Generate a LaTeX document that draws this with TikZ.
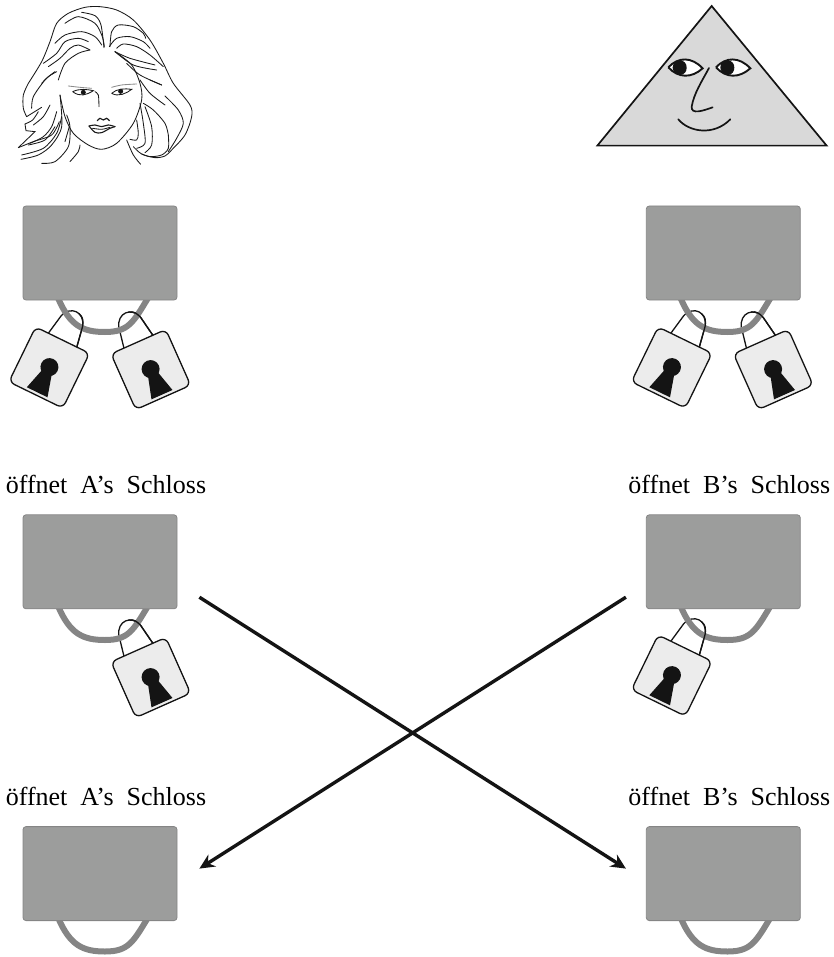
\documentclass[tikz,border=0pt]{standalone}
\usepackage{fontspec}
\setmainfont{Liberation Serif}
\usetikzlibrary{positioning}
\usetikzlibrary{arrows.meta}
\definecolor{keygray}{HTML}{9C9D9C}
\definecolor{ringgray}{HTML}{858585}
\definecolor{lockgray}{HTML}{ECECEC}
\definecolor{facegray}{HTML}{D9D9D9}
\definecolor{inkblack}{HTML}{141414}

\begin{document}
\begin{tikzpicture}[x=1pt,y=-1pt,
            node distance = 214pt,
            key/.style = {draw=ringgray,fill=keygray,rounded corners=3pt,line width=.8pt,
                minimum width=154pt,minimum height=94pt,inner sep=0pt},
            opens/.style = {inner sep=0pt,xshift=6pt,font=\fontsize{26}{28}\selectfont},
            hair/.style = {line width=.85pt,line cap=round,black!90},
            send/.style = {line width=3.4pt,inkblack,-{Stealth[length=15pt,width=14pt]}},
            ring/.pic = {
                \draw[ringgray,line width=6pt] (-42,45) .. controls (-30,73) and (-17,79) .. (5,79)
                    .. controls (28,79) and (33,70) .. (48,45);},
            lockrear/.pic = {
                \draw[inkblack,line width=1.3pt] (-16,-30) -- (-12,-52) .. controls (-8,-66) and (8,-66) .. (12,-52) -- (16,-30);},
            lockfront/.pic = {
                \draw[inkblack,line width=1.3pt] (3,-62) .. controls (8,-61) and (10,-58) .. (12,-52) -- (16,-30);
                \draw[inkblack,fill=lockgray,line width=1.3pt,rounded corners=6pt] (-30,-31) rectangle (30,30);
                \fill[inkblack] (0,-1) circle (9);
                \fill[inkblack] (-4,0) -- (-11.5,27) -- (11.5,27) -- (4,0) -- cycle;}]
    \useasboundingbox (0,0) rectangle (834,957);

    % padlocks, the rear part goes under the ring
    \foreach \x/\y/\tilt in {49/368/-26,151/370/24,671.5/368/-26,773.5/370/24,151/678/24,671.5/676/-26}
        \pic[rotate=\tilt] at (\x,\y) {lockrear};
    \foreach \x in {100,722.5} \foreach \y in {253,561,872.5}
        \pic at (\x,\y) {ring};
    \foreach \x/\y/\tilt in {49/368/-26,151/370/24,671.5/368/-26,773.5/370/24,151/678/24,671.5/676/-26}
        \pic[rotate=\tilt] at (\x,\y) {lockfront};

    % key plates
    \node[key] (plateA1) at (100,253) {};
    \node[key, right=468.5pt of plateA1] (plateB1) {};
    \node[key, below=of plateA1] (plateA2) {};
    \node[key, below=of plateB1] (plateB2) {};
    \node[key, below=217pt of plateA2] (plateA3) {};
    \node[key, below=217pt of plateB2] (plateB3) {};

    \node[opens, above=20pt of plateA2] (opensA2) {öffnet~ A’s~ Schloss};
    \node[opens, above=20pt of plateB2] (opensB2) {öffnet~ B’s~ Schloss};
    \node[opens, above=20pt of plateA3] (opensA3) {öffnet~ A’s~ Schloss};
    \node[opens, above=20pt of plateB3] (opensB3) {öffnet~ B’s~ Schloss};

    % crossing transfers
    \coordinate (fromA) at ([xshift=22pt,yshift=12pt]plateA2.south east);
    \coordinate (fromB) at ([xshift=-20pt,yshift=12pt]plateB2.south west);
    \coordinate (toA) at ([xshift=22pt,yshift=5pt]plateA3.east);
    \coordinate (toB) at ([xshift=-20pt,yshift=5pt]plateB3.west);
    \draw[send] (fromA) -- (toB);
    \draw[send] (fromB) -- (toA);

    % triangle with face
    \begin{scope}[shift={(590,0)},x=.3333pt,y=-.3333pt]
        \draw[inkblack,fill=facegray,line width=1.7pt,line join=miter] (365,18) -- (710,437) -- (22,437) -- cycle;
        \foreach \ex in {0,143} {
            \begin{scope}[xshift=\ex*.3333pt]
                \path[fill=white] (235,202) .. controls (265,170) and (305,170) .. (338,205)
                    .. controls (305,235) and (265,235) .. (235,202);
                \fill[inkblack] (268,181) .. controls (284,181) and (290,192) .. (290,203)
                    .. controls (290,214) and (284,224) .. (270,225) .. controls (256,224) and (248,212) .. (248,203)
                    .. controls (248,192) and (256,181) .. (268,181);
                \draw[inkblack,line width=1.9pt] (235,202) .. controls (265,170) and (305,170) .. (338,205)
                    .. controls (305,235) and (265,235) .. (235,202);
            \end{scope}}
        \draw[inkblack,line width=1.7pt,line cap=round] (357,204) .. controls (335,245) and (312,280) .. (305,320)
            .. controls (303,345) and (340,332) .. (368,322);
        \draw[inkblack,line width=1.7pt,line cap=round] (265,358) .. controls (295,395) and (370,410) .. (421,358);
    \end{scope}

    % woman
    \begin{scope}[x=.3333pt,y=-.3333pt]
        % outline of hair
        \draw[hair] plot[smooth] coordinates {(85,250) (125,185) (150,125) (170,70) (205,40) (255,22) (300,20) (350,30) (400,60) (450,120) (490,190) (520,250) (570,315) (575,350) (555,405) (515,450) (495,468) (465,473) (425,462) (400,440)};
        \draw[hair] plot[smooth] coordinates {(85,250) (70,285) (70,325) (80,350)};
        \draw[hair] (80,350) -- (125,322);
        \draw[hair] plot[smooth] coordinates {(115,335) (98,360) (75,372)};
        \draw[hair] (75,372) -- (78,392) -- (105,395) -- (55,443);
        \draw[hair] plot[smooth] coordinates {(55,443) (100,425) (155,405) (178,365)};
        % strands on top
        \draw[hair] plot[smooth] coordinates {(195,70) (235,50) (285,70) (307,110) (313,140)};
        \draw[hair] plot[smooth] coordinates {(245,37) (285,47) (303,75) (312,143)};
        \draw[hair] plot[smooth] coordinates {(330,140) (335,95) (355,75) (400,80) (430,100) (437,115)};
        \draw[hair] plot[smooth] coordinates {(328,140) (350,115) (390,110) (430,125) (450,145)};
        \draw[hair] plot[smooth] coordinates {(350,145) (370,132) (410,140) (450,165) (490,200)};
        \draw[hair] plot[smooth] coordinates {(345,155) (390,175) (465,195)};
        \draw[hair] plot[smooth] coordinates {(345,155) (400,195) (470,210)};
        \draw[hair] plot[smooth] coordinates {(380,190) (420,225) (485,255)};
        \draw[hair] plot[smooth] coordinates {(165,130) (195,105) (245,95) (285,110) (305,135)};
        \draw[hair] plot[smooth] coordinates {(130,190) (170,160) (195,125) (235,115) (265,125)};
        \draw[hair] plot[smooth] coordinates {(145,200) (180,175) (210,145) (235,135) (270,150)};
        \draw[hair] plot[smooth] coordinates {(175,240) (195,190) (235,160) (270,150)};
        \draw[hair] plot[smooth] coordinates {(125,250) (145,230) (170,215)};
        \draw[hair] plot[smooth] coordinates {(95,325) (100,290) (135,240) (165,215)};
        % strands lower left
        \draw[hair] plot[smooth] coordinates {(63,478) (115,465) (155,435) (185,380) (180,285)};
        \draw[hair] plot[smooth] coordinates {(65,465) (130,445) (170,400) (185,350)};
        \draw[hair] plot[smooth] coordinates {(85,435) (135,420) (165,380)};
        \draw[hair] plot[smooth] coordinates {(90,430) (130,410) (155,380) (170,335)};
        \draw[hair] plot[smooth] coordinates {(100,375) (130,350) (150,315)};
        \draw[hair] plot[smooth] coordinates {(125,490) (165,485) (205,440) (210,380) (200,345)};
        \draw[hair] plot[smooth] coordinates {(195,425) (208,380)};
        \draw[hair] plot[smooth] coordinates {(210,485) (235,455) (240,435)};
        % strands lower right
        \draw[hair] plot[smooth] coordinates {(420,240) (450,280) (495,315)};
        \draw[hair] plot[smooth] coordinates {(430,310) (460,330) (495,370) (505,405)};
        \draw[hair] plot[smooth] coordinates {(495,288) (535,330) (550,370) (530,415) (505,455)};
        \draw[hair] plot[smooth] coordinates {(505,405) (505,445) (485,465) (450,470) (425,462)};
        \draw[hair] plot[smooth] coordinates {(420,310) (430,370) (435,430) (410,445)};
        \draw[hair] plot[smooth] coordinates {(410,360) (415,400) (410,420) (390,418)};
        \draw[hair] plot[smooth] coordinates {(435,320) (455,380) (455,435) (435,458)};
        \draw[hair] (450,240) -- (485,255);
        \draw[hair] plot[smooth] coordinates {(380,420) (400,465) (422,493)};
        % face
        \draw[hair] plot[smooth] coordinates {(180,285) (195,350) (220,400) (265,435) (305,448) (350,430) (400,370) (425,300) (420,250) (395,195) (345,155)};
        \draw[hair,black!45] plot[smooth] coordinates {(205,258) (240,262) (275,265)};
        \draw[hair,black!45] plot[smooth] coordinates {(335,262) (365,255) (410,252)};
        \draw[hair] (218,275) .. controls (240,265) and (260,268) .. (280,272) .. controls (260,285) and (240,292) .. (218,275);
        \draw[hair] (335,280) .. controls (350,266) and (375,265) .. (395,268) .. controls (380,280) and (355,292) .. (335,280);
        \fill[inkblack] (250,277) circle (7.5) (362,274) circle (7.5);
        \draw[hair] plot[smooth] coordinates {(285,275) (295,285) (297,320)};
        \draw[hair,line width=1.2pt] plot[smooth] coordinates {(292,362) (300,355) (310,360) (320,355) (328,362)};
        \draw[hair,line width=1.1pt] plot[smooth] coordinates {(267,378) (285,375) (305,380) (325,375) (345,380)};
        \draw[hair,line width=1.1pt] plot[smooth] coordinates {(267,378) (285,397) (305,398) (330,385) (345,380)};
        \draw[hair] plot[smooth] coordinates {(278,385) (305,388) (330,382)};
    \end{scope}
\end{tikzpicture}
\end{document}
